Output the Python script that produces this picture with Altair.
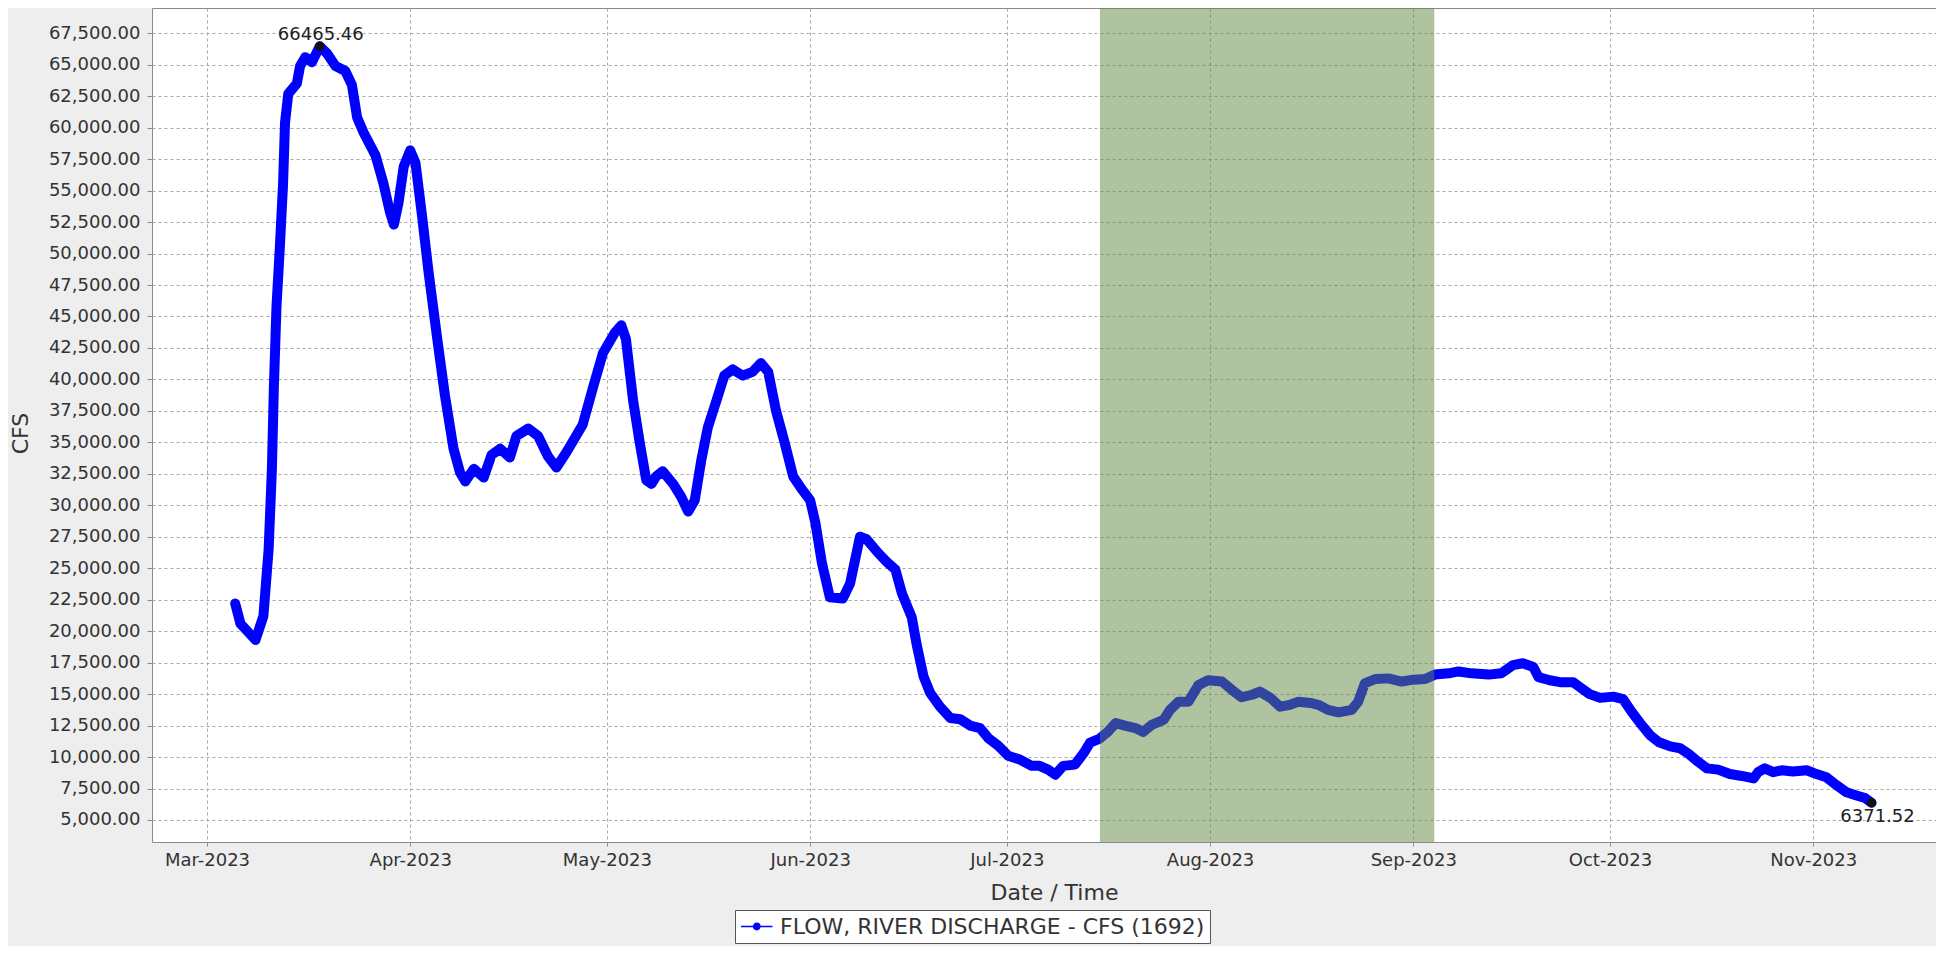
import altair as alt
import pandas as pd

SERIES_NAME = "FLOW, RIVER DISCHARGE - CFS (1692)"

# days since 2023-03-01 00:00 UTC
DAYS = [4.3, 5.1, 7.4, 8.6, 9.4, 9.9, 10.2, 10.6, 11.1, 11.6, 11.9, 12.4, 13.7, 14.2, 15.0, 16.0,
        17.2, 18.3, 19.6, 21.1, 22.1, 22.9, 23.9, 25.7, 26.9, 27.9, 28.5, 29.2, 30.0, 31.0, 31.8,
        32.8, 33.8, 35.1, 36.3, 37.6, 38.6, 39.4, 40.7, 42.2, 43.4, 44.7, 46.2, 47.2, 49.0, 50.5,
        52.0, 53.3, 54.8, 57.3, 58.9, 60.4, 62.2, 63.2, 63.9, 65.0, 66.0, 67.0, 67.8, 68.5, 69.5,
        71.1, 72.3, 73.4, 74.4, 75.4, 76.4, 77.7, 78.9, 80.2, 81.7, 83.2, 84.5, 85.6, 86.8, 88.1,
        89.4, 90.7, 92.0, 92.8, 93.8, 95.0, 97.0, 98.1, 99.6, 100.6, 102.4, 103.7, 105.0, 106.0,
        107.5, 108.3, 109.3, 110.3, 111.8, 113.4, 114.9, 116.4, 117.9, 119.2, 120.7, 122.2, 124.0,
        125.8, 127.0, 128.3, 129.4, 130.6, 132.4, 133.7, 134.7, 136.1, 137.4, 138.6, 140.0, 141.6,
        142.8, 144.1, 145.9, 146.9, 148.2, 149.7, 151.2, 152.7, 154.8, 156.3, 157.8, 159.4, 160.6,
        162.2, 163.7, 165.2, 166.5, 168.3, 169.5, 171.0, 172.6, 174.6, 175.6, 176.6, 178.2, 180.2,
        182.2, 184.0, 185.8, 187.3, 189.4, 190.9, 192.9, 195.5, 197.4, 199.2, 200.7, 202.3, 203.1,
        204.8, 206.4, 208.4, 209.7, 210.9, 212.5, 214.5, 216.0, 217.3, 218.6, 220.1, 221.4, 223.2,
        224.7, 226.0, 227.5, 228.8, 230.5, 232.3, 234.1, 235.9, 236.6, 237.6, 238.9, 240.2, 241.9,
        244.0, 245.5, 247.0, 248.6, 250.1, 251.6, 252.9, 253.9]

FLOW = [22200, 20600, 19300, 21200, 26500, 32900, 39400, 45800, 50400, 55500, 60400, 62700, 63500,
        64900, 65600, 65200, 66465.46, 65900, 64900, 64500, 63400, 60800, 59600, 57800, 55600,
        53300, 52300, 54000, 56900, 58200, 57200, 53000, 48500, 43300, 38700, 34500, 32600, 31900,
        32900, 32200, 34000, 34500, 33800, 35500, 36100, 35500, 33900, 33000, 34200, 36400, 39400,
        42100, 43700, 44300, 43200, 38300, 35000, 32000, 31700, 32300, 32700, 31700, 30700, 29500,
        30400, 33600, 36200, 38300, 40300, 40800, 40300, 40600, 41300, 40600, 37500, 35000, 32300,
        31300, 30400, 28600, 25400, 22700, 22600, 23800, 27500, 27300, 26200, 25500, 24900, 23000,
        21100, 18800, 16400, 15100, 14000, 13100, 13000, 12500, 12300, 11500, 10900, 10100, 9800,
        9300, 9300, 9000, 8600, 9300, 9400, 10300, 11150, 11450, 12000, 12700, 12500, 12300, 12000,
        12550, 12950, 13750, 14400, 14400, 15700, 16100, 16000, 15350, 14750, 14950, 15200, 14700,
        14000, 14150, 14400, 14300, 14150, 13750, 13550, 13750, 14400, 15850, 16200, 16250, 16000,
        16150, 16200, 16550, 16650, 16800, 16650, 16550, 16650, 17300, 17450, 17150, 16350, 16100,
        15950, 15950, 15450, 15000, 14700, 14800, 14600, 13600, 12700, 11750, 11200, 10850, 10700,
        10250, 9600, 9100, 9000, 8650, 8500, 8300, 8800, 9100, 8800, 8950, 8850, 8950, 8650, 8400,
        7750, 7200, 6950, 6750, 6371.52]

BAND_DAYS = [136.2, 187.2]          # highlighted period (days since Mar 1)
MARK_DAYS = [17.2, 253.9]           # max and last value
MARK_FLOW = [66465.46, 6371.52]
MARK_LABELS = ["66465.46", "6371.52"]
X_DOMAIN_DAYS = [-8.39, 263.73]
Y_DOMAIN = [3252, 69505]
Y_TICKS = list(range(5000, 67501, 2500))
TICK_MONTHS = [3, 4, 5, 6, 7, 8, 9, 10, 11]

BASE = pd.Timestamp("2023-03-01", tz="UTC")


def to_ts(d):
    return BASE + pd.to_timedelta(d, unit="D")


def to_ms(d):
    return int(to_ts(d).value // 10**6)


df = pd.DataFrame({"date": [to_ts(d) for d in DAYS], "flow": FLOW, "series": SERIES_NAME})
band = pd.DataFrame({"start": [to_ts(BAND_DAYS[0])], "end": [to_ts(BAND_DAYS[1])]})
marks = pd.DataFrame({"date": [to_ts(d) for d in MARK_DAYS], "flow": MARK_FLOW, "label": MARK_LABELS})

tick_values = [int(pd.Timestamp(year=2023, month=m, day=1, tz="UTC").value // 10**6) for m in TICK_MONTHS]

FONT = "DejaVu Sans"

x_enc = alt.X(
    "date:T",
    scale=alt.Scale(type="utc", domain=[to_ms(X_DOMAIN_DAYS[0]), to_ms(X_DOMAIN_DAYS[1])], nice=False),
    axis=alt.Axis(values=tick_values, tickCount=40, format="%b-%Y", title="Date / Time",
                  labelPadding=5, tickSize=4,
                  titleX=902, titleY=57, titleBaseline="alphabetic", titleAlign="center"),
)
y_enc = alt.Y(
    "flow:Q",
    scale=alt.Scale(domain=Y_DOMAIN, nice=False, zero=False),
    axis=alt.Axis(values=Y_TICKS, tickCount=60, format=",.2f", title="CFS", labelPadding=7, tickSize=5,
                  labelOverlap=False,
                  titleX=-125, titleY=425, titleAngle=270, titleBaseline="alphabetic", titleAlign="center"),
)

# a line with a dot in the middle: nominal box is [-1,1], line runs on to 2
LEGEND_PATH = "M-1,0L2,0M0.2,0A0.3,0.3,0,1,1,0.8,0A0.3,0.3,0,1,1,0.2,0Z"

line = alt.Chart(df).mark_line(strokeWidth=10, strokeCap="round", strokeJoin="round").encode(
    x=x_enc,
    y=y_enc,
    color=alt.Color(
        "series:N",
        scale=alt.Scale(range=["#0000ff"]),
        legend=alt.Legend(
            title=None, orient="none", legendX=583, legendY=902,
            symbolType=LEGEND_PATH, symbolSize=441, symbolStrokeWidth=1.5,
            symbolFillColor="#0000ff", symbolStrokeColor="#0000ff",
            labelFont=FONT, labelFontSize=22, labelColor="#333333", labelLimit=1000,
            labelOffset=17, padding=5, strokeColor="#555555", fillColor="white",
        ),
    ),
)

band_layer = alt.Chart(band).mark_rect(color="#5f8741", opacity=0.5).encode(
    x="start:T", x2="end:T"
)

dots = alt.Chart(marks).mark_circle(size=90, color="#111111", opacity=1).encode(
    x="date:T", y="flow:Q"
)

peak_text = alt.Chart(marks.iloc[[0]]).mark_text(
    font=FONT, fontSize=18, color="#222222", align="center", baseline="alphabetic", dx=1, dy=-6
).encode(x="date:T", y="flow:Q", text="label:N")

last_text = alt.Chart(marks.iloc[[1]]).mark_text(
    font=FONT, fontSize=18, color="#222222", align="center", baseline="alphabetic", dx=6, dy=19
).encode(x="date:T", y="flow:Q", text="label:N")

chart = alt.layer(line, band_layer, dots, peak_text, last_text).properties(
    width=1784,
    height=834,
    padding={"left": 144, "top": 0, "right": 0, "bottom": 104},
    autosize=alt.AutoSizeParams(type="none"),
    background="#eeeeee",
).configure_view(
    stroke="#8a8a8a", strokeWidth=1, fill="white"
).configure_axis(
    labelFont=FONT, labelFontSize=18, labelColor="#333333",
    titleFont=FONT, titleFontSize=22, titleFontWeight="normal", titleColor="#333333",
    domain=False, tickColor="#8a8a8a",
    grid=True, gridColor="#a8a8a8", gridDash=[3, 3], gridWidth=1,
)

chart.save("out.html", embed_options={"renderer": "svg", "actions": False})
